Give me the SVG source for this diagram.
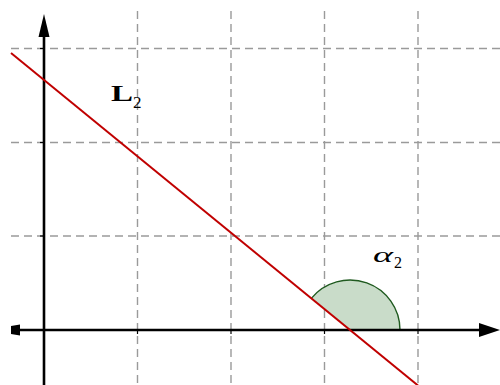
<svg xmlns="http://www.w3.org/2000/svg" width="500" height="385" viewBox="0 0 500 385">
<style>
.grid{stroke:#9a9a9a;stroke-width:1.4;stroke-dasharray:8 5;fill:none}
.axis{stroke:#000;stroke-width:2.6;fill:none}
.tick{stroke:#000;stroke-width:1.2;fill:none}
.lbl{font-family:"Liberation Serif","DejaVu Serif",serif;fill:#000}
</style>
<rect width="500" height="385" fill="#fff"/>
<g id="grid">
<line class="grid" x1="137.5" y1="11" x2="137.5" y2="385"/>
<line class="grid" x1="231" y1="11" x2="231" y2="385"/>
<line class="grid" x1="324.5" y1="11" x2="324.5" y2="385"/>
<line class="grid" x1="418" y1="11" x2="418" y2="385"/>
<line class="grid" x1="11" y1="48.5" x2="500" y2="48.5"/>
<line class="grid" x1="11" y1="142.5" x2="500" y2="142.5"/>
<line class="grid" x1="11" y1="236" x2="500" y2="236"/>
</g>
<g id="angle">
<path d="M350,330 L311.3,298.4 A50,50 0 0 1 400,330 Z" fill="#c9dcc9" stroke="none"/>
<path d="M311.3,298.4 A50,50 0 0 1 400,330 L350,330" fill="none" stroke="#1f5a1f" stroke-width="1.4"/>
</g>
<g id="axes">
<line class="axis" x1="44" y1="36" x2="44" y2="385"/>
<polygon points="44,14 38.5,37 49.5,37" fill="#000"/>
<line class="axis" x1="18" y1="330" x2="482" y2="330"/>
<polygon points="500,330 479,323 479,337" fill="#000"/>
<polygon points="11,326 20,324.5 20,335.5 11,334" fill="#000"/>
<line class="tick" x1="40" y1="48.5" x2="44" y2="48.5"/>
<line class="tick" x1="40" y1="142.5" x2="44" y2="142.5"/>
<line class="tick" x1="40" y1="236" x2="44" y2="236"/>
<line class="tick" x1="137.5" y1="330" x2="137.5" y2="334"/>
<line class="tick" x1="231" y1="330" x2="231" y2="334"/>
<line class="tick" x1="324.5" y1="330" x2="324.5" y2="334"/>
<line class="tick" x1="418" y1="330" x2="418" y2="334"/>
</g>
<g id="line-L2">
<line x1="11" y1="53" x2="418" y2="385.5" stroke="#c00000" stroke-width="2"/>
</g>
<g id="label-L2">
<text class="lbl" x="111" y="101" font-size="23" font-weight="bold" textLength="22" lengthAdjust="spacingAndGlyphs">L</text>
<text class="lbl" x="133" y="108" font-size="17">2</text>
</g>
<g id="label-alpha2">
<text class="lbl" x="373" y="262" font-size="21" font-style="italic" textLength="20" lengthAdjust="spacingAndGlyphs">α</text>
<text class="lbl" x="394" y="268" font-size="16">2</text>
</g>
</svg>
